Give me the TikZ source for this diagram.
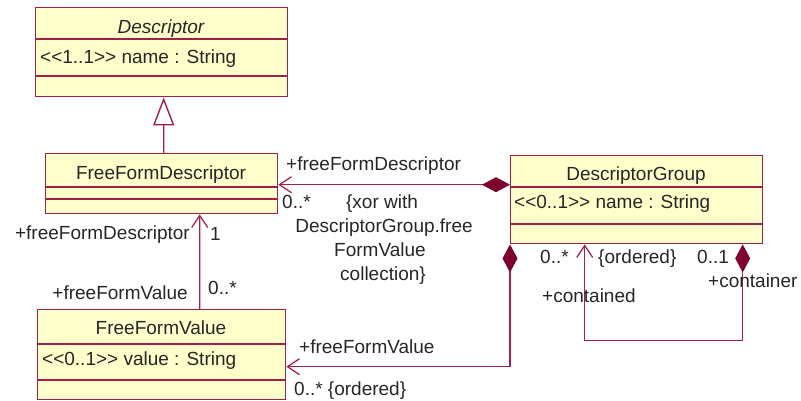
\documentclass[tikz,border=0pt]{standalone}
\usepackage{fontspec}
\setmainfont{Liberation Sans}[Ligatures=NoCommon]
\usetikzlibrary{arrows.meta}

\definecolor{umlline}{RGB}{160,32,72}
\definecolor{umlfill}{RGB}{255,255,204}
\definecolor{umldiamond}{RGB}{128,0,48}

\newcommand{\stl}{<{}<}
\newcommand{\stg}{>{}>}

\tikzset{
  classbox/.style={draw=umlline, fill=umlfill, line width=1.4bp, inner sep=0pt, anchor=north west},
  divider/.style={draw=umlline, line width=1.4bp},
  txt/.style={inner sep=0pt, font=\fontsize{19bp}{22bp}\selectfont, text=black!85},
  conn/.style={draw=umlline, line width=1.4bp},
  barb/.tip={Straight Barb[length=12bp, width=16bp, line width=1.2bp]},
  compo/.tip={Diamond[length=28bp, width=15bp, color=umldiamond]},
  inherit/.tip={Triangle[open, length=28bp, width=21bp, fill=white]}
}

\begin{document}
\begin{tikzpicture}[x=1bp, y=-1bp]
\useasboundingbox (0,0) rectangle (801,400);

% ---- classes ----
\node[classbox, minimum width=252bp, minimum height=89bp] (desc) at (35,7) {};
\draw[divider] ([yshift=-32bp]desc.north west) -- ([yshift=-32bp]desc.north east);
\draw[divider] ([yshift=-69bp]desc.north west) -- ([yshift=-69bp]desc.north east);
\node[txt, anchor=base, font=\fontsize{19bp}{22bp}\selectfont\itshape] (descname) at (161,33) {Descriptor};
\node[txt, anchor=base west] (descattr) at (40,63) {\stl1..1\stg\ name : String};

\node[classbox, minimum width=232bp, minimum height=60bp] (ffd) at (45,153) {};
\draw[divider] ([yshift=-34bp]ffd.north west) -- ([yshift=-34bp]ffd.north east);
\draw[divider] ([yshift=-46bp]ffd.north west) -- ([yshift=-46bp]ffd.north east);
\node[txt, anchor=base] (ffdname) at (161,179) {FreeFormDescriptor};

\node[classbox, minimum width=252bp, minimum height=88bp] (dg) at (510,155) {};
\draw[divider] ([yshift=-32bp]dg.north west) -- ([yshift=-32bp]dg.north east);
\draw[divider] ([yshift=-69bp]dg.north west) -- ([yshift=-69bp]dg.north east);
\node[txt, anchor=base] (dgname) at (636,180) {DescriptorGroup};
\node[txt, anchor=base west] (dgattr) at (514,208) {\stl0..1\stg\ name : String};

\node[classbox, minimum width=248bp, minimum height=90bp] (ffv) at (37,309) {};
\draw[divider] ([yshift=-35bp]ffv.north west) -- ([yshift=-35bp]ffv.north east);
\draw[divider] ([yshift=-71bp]ffv.north west) -- ([yshift=-71bp]ffv.north east);
\node[txt, anchor=base] (ffvname) at (161,334) {FreeFormValue};
\node[txt, anchor=base west] (ffvattr) at (42,365) {\stl0..1\stg\ value : String};

% ---- connectors ----
% generalization FreeFormDescriptor -> Descriptor
\draw[conn, -inherit] ([xshift=2bp]ffd.north) -- ([xshift=2bp]desc.south);

% DescriptorGroup owns FreeFormDescriptor
\draw[conn, barb-compo] ([yshift=-1bp]ffd.east) -- ([yshift=-1bp]dg.west |- ffd.east);

% FreeFormValue -> FreeFormDescriptor
\draw[conn, barb-] ([xshift=38bp]ffd.south) -- ([xshift=38bp]ffv.north);

% DescriptorGroup owns FreeFormValue
\coordinate (ffvin) at ([yshift=-12bp]ffv.east);
\draw[conn, compo-barb] (dg.south west) -- (dg.south west |- ffvin) -- (ffvin);

% DescriptorGroup self containment
\coordinate (selfout) at ([xshift=106bp]dg.south);
\coordinate (selfin) at ([xshift=-52bp]dg.south);
\draw[conn, compo-barb] (selfout) -- ([yshift=-96bp]selfout) -| (selfin);

% ---- association labels ----
\node[txt, anchor=base west] (r1) at (286,170) {+freeFormDescriptor};
\node[txt, anchor=base west] (m1) at (282,208) {0..*};
\node[txt, anchor=base] (x1) at (382,208) {\{xor with};
\node[txt, anchor=base] (x2) at (384,232) {DescriptorGroup.free};
\node[txt, anchor=base] (x3) at (380,256) {FormValue};
\node[txt, anchor=base] (x4) at (383,280) {collection\}};

\node[txt, anchor=base east] (r2) at (190,239) {+freeFormDescriptor};
\node[txt, anchor=base west] (m2) at (210,240) {1};
\node[txt, anchor=base east] (r3) at (188,299) {+freeFormValue};
\node[txt, anchor=base west] (m3) at (208,294) {0..*};

\node[txt, anchor=base west] (r4) at (299,353) {+freeFormValue};
\node[txt, anchor=base west] (m4) at (294,395) {0..* \{ordered\}};

\node[txt, anchor=base west] (m5) at (540,263) {0..*};
\node[txt, anchor=base west] (c5) at (598,263) {\{ordered\}};
\node[txt, anchor=base west] (m6) at (697,263) {0..1};
\node[txt, anchor=base west] (r6) at (708,287) {+container};
\node[txt, anchor=base west] (r5) at (542,302) {+contained};
\end{tikzpicture}
\end{document}
